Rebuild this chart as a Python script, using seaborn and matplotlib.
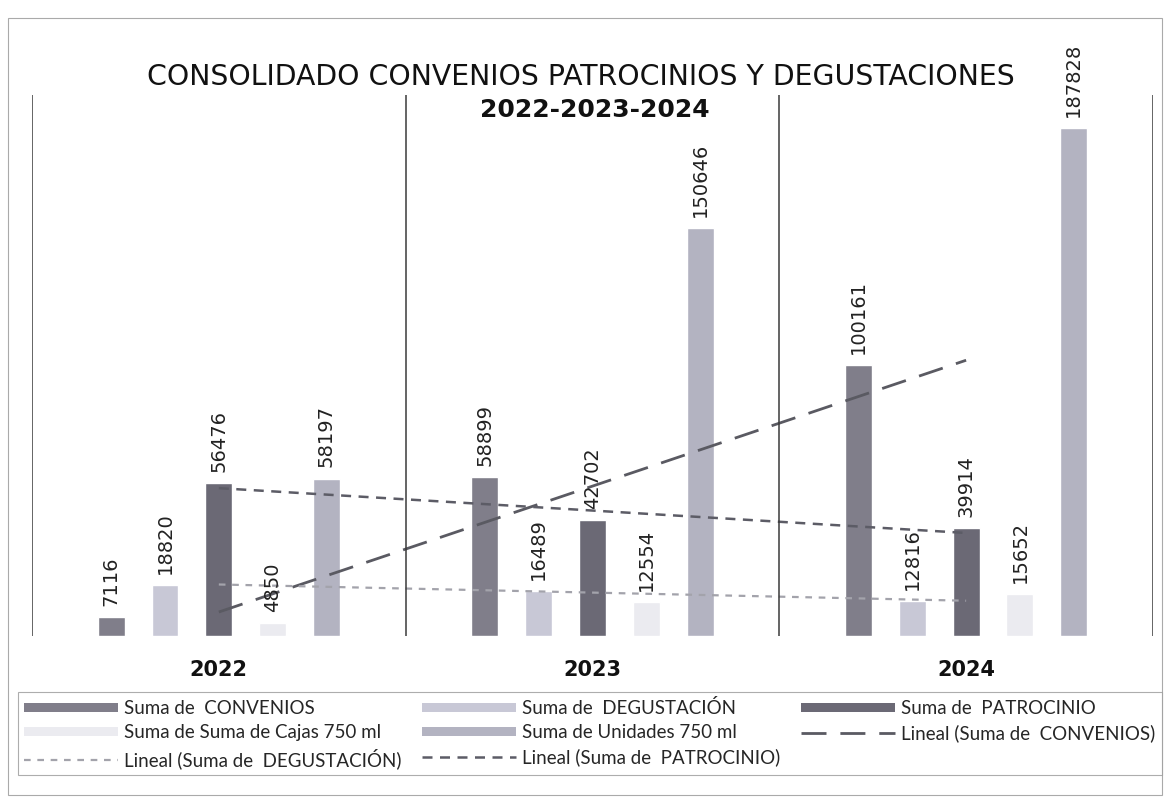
import numpy as np
import pandas as pd
import matplotlib.pyplot as plt
import seaborn as sns
from matplotlib.patches import Patch, Rectangle
from matplotlib.lines import Line2D

# data
anios = ['2022', '2023', '2024']
series = ['Suma de  CONVENIOS', 'Suma de  DEGUSTACIÓN', 'Suma de  PATROCINIO',
          'Suma de Suma de Cajas 750 ml', 'Suma de Unidades 750 ml']
convenios = [7116, 58899, 100161]
degustacion = [18820, 16489, 12816]
patrocinio = [56476, 42702, 39914]
cajas = [4850, 12554, 15652]
unidades = [58197, 150646, 187828]

colores = ['#807e8a', '#c8c8d6', '#6b6975', '#ebebf0', '#b3b3c1']

rows = []
for s, vals in zip(series, [convenios, degustacion, patrocinio, cajas, unidades]):
    for a, v in zip(anios, vals):
        rows.append({'anio': a, 'serie': s, 'valor': v})
df = pd.DataFrame(rows)

sns.set_style('white')
plt.rcParams['font.family'] = ['DejaVu Sans']

fig = plt.figure(figsize=(11.68, 7.97), dpi=100)
ax = fig.add_axes([0.0274, 0.202, 0.9597, 0.679])

sns.barplot(data=df, x='anio', y='valor', hue='serie', palette=colores,
            width=0.72, gap=0.5, ax=ax, legend=False, saturation=1)

for c in ax.containers:
    ax.bar_label(c, fmt='%d', rotation=90, padding=8, fontsize=14, color='#222222')

# linear trendlines (Excel "Lineal")
xs = np.arange(len(anios))
estilos = [
    dict(color='#5a5a62', lw=2.0, dashes=(9, 5)),
    dict(color='#a3a3ab', lw=1.6, dashes=(3, 3)),
    dict(color='#5c5c66', lw=1.8, dashes=(4, 3)),
]
for vals, st in zip([convenios, degustacion, patrocinio], estilos):
    m, b = np.polyfit(xs, vals, 1)
    ax.plot(xs, m * xs + b, **st)

ax.set_xlim(-0.5, 2.5)
ax.set_ylim(0, 200000)
for x in [-0.5, 0.5, 1.5, 2.5]:
    ax.axvline(x, color='#3a3a3a', lw=1.1)
for sp in ax.spines.values():
    sp.set_visible(False)
ax.set_yticks([])
ax.set_xlabel('')
ax.set_ylabel('')
ax.tick_params(axis='x', length=0, pad=17)
for t in ax.get_xticklabels():
    t.set_fontsize(15)
    t.set_fontweight('bold')
    t.set_color('#111111')

fig.text(0.497, 0.903, 'CONSOLIDADO CONVENIOS PATROCINIOS Y DEGUSTACIONES',
         ha='center', va='center', fontsize=20.4, color='#111111')
fig.text(0.509, 0.862, '2022-2023-2024', ha='center', va='center',
         fontsize=18, color='#111111', fontweight='bold')

# legend, ordered to fill row by row like the original
p = [Patch(facecolor=c, edgecolor='none') for c in colores]
l = [Line2D([0], [0], **estilos[0]), Line2D([0], [0], **estilos[1]),
     Line2D([0], [0], **estilos[2])]
lin = ['Lineal (Suma de  CONVENIOS)', 'Lineal (Suma de  DEGUSTACIÓN)',
       'Lineal (Suma de  PATROCINIO)']
handles = [p[0], p[3], l[1], p[1], p[4], l[2], p[2], l[0]]
labels = [series[0], series[3], lin[1], series[1], series[4], lin[2], series[2], lin[0]]
leg = fig.legend(handles, labels, ncol=3, loc='lower left',
                 bbox_to_anchor=(0.015, 0.027, 0.98, 0.108), mode='expand',
                 borderaxespad=0,
                 prop={'family': 'Lato', 'size': 13.5},
                 handlelength=5.0, handleheight=0.35,
                 handletextpad=0.35, labelspacing=0.38, borderpad=0.35,
                 frameon=True, fancybox=False, edgecolor='#999999')
leg.get_frame().set_linewidth(0.8)

fig.patches.append(Rectangle((0.007, 0.003), 0.988, 0.974, transform=fig.transFigure,
                             fill=False, edgecolor='#aaaaaa', lw=0.8))

plt.savefig('out.png', dpi=100)
